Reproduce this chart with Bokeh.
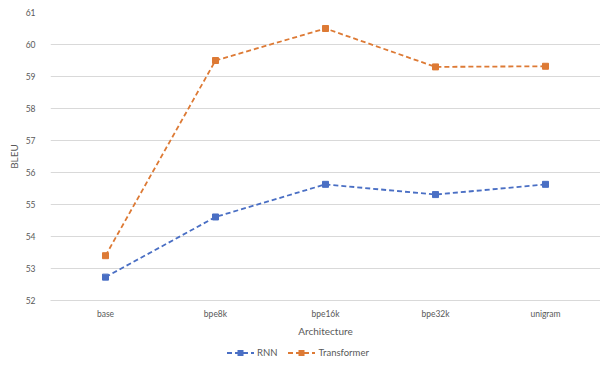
from bokeh.plotting import figure
from bokeh.models import FactorRange, Range1d, FixedTicker, Div
from bokeh.layouts import column
from bokeh.embed import file_html
from bokeh.resources import INLINE

categories = ["base", "bpe8k", "bpe16k", "bpe32k", "unigram"]
rnn = [52.73, 54.61, 55.63, 55.31, 55.63]
transformer = [53.40, 59.50, 60.50, 59.30, 59.32]
y_ticks = [52, 53, 54, 55, 56, 57, 58, 59, 60, 61]
series_names = ["RNN", "Transformer"]

BLUE = "#4A6FC4"
ORANGE = "#DD7A35"
TEXT = "#595959"
GRID = "#D9D9D9"
FONT = "Lato"

p = figure(
    x_range=FactorRange(*categories),
    y_range=Range1d(52, 61),
    width=600, height=346,
    output_backend="svg", toolbar_location=None,
    min_border_left=50, min_border_right=0,
    min_border_top=12, min_border_bottom=46,
)
p.outline_line_color = None
p.xgrid.grid_line_color = None
p.ygrid.grid_line_color = GRID
p.ygrid.grid_line_width = 1

p.yaxis.ticker = FixedTicker(ticks=y_ticks)
for ax in (p.xaxis[0], p.yaxis[0]):
    ax.major_tick_line_color = None
    ax.minor_tick_line_color = None
    ax.major_tick_out = 0
    ax.major_tick_in = 0
    ax.major_label_text_color = TEXT
    ax.major_label_text_font = FONT
    ax.major_label_text_font_size = "8.5px"
    ax.axis_label_text_color = TEXT
    ax.axis_label_text_font = FONT
    ax.axis_label_text_font_size = "10px"
    ax.axis_label_text_font_style = "normal"

p.xaxis.axis_line_color = GRID
p.yaxis.axis_line_color = None
p.xaxis.axis_label = "Architecture"
p.yaxis.axis_label = "BLEU"
p.xaxis.major_label_standoff = 8
p.xaxis.axis_label_standoff = 3
p.yaxis.major_label_standoff = 15
p.yaxis.axis_label_standoff = 3

p.line(categories, rnn, line_color=BLUE, line_width=1.8, line_dash="5 3")
p.scatter(categories, rnn, marker="square", size=6, fill_color=BLUE, line_color=BLUE)
p.line(categories, transformer, line_color=ORANGE, line_width=1.8, line_dash="5 3")
p.scatter(categories, transformer, marker="square", size=6, fill_color=ORANGE, line_color=ORANGE)


def swatch(color):
    return (
        '<svg width="27" height="10" style="display:block">'
        f'<line x1="0" y1="5" x2="27" y2="5" stroke="{color}" stroke-width="1.8" stroke-dasharray="5 3"/>'
        f'<rect x="10.5" y="2" width="6" height="6" fill="{color}"/>'
        '</svg>'
    )


items_html = ""
for i, (name, color) in enumerate(zip(series_names, [BLUE, ORANGE])):
    gap = "0" if i == 0 else "11px"
    items_html += (
        f'<div style="display:flex;align-items:center;margin-left:{gap}">'
        f'{swatch(color)}'
        f'<span style="margin-left:3px;font-family:{FONT};font-size:9.5px;color:{TEXT};line-height:12px">{name}</span>'
        '</div>'
    )

legend_div = Div(
    text=f'<div style="display:flex;align-items:center;height:14px;padding-left:227px">{items_html}</div>',
    width=600, height=14, margin=0,
)

layout = column(p, legend_div, spacing=0)

open("out.html", "w").write(file_html(layout, INLINE))
